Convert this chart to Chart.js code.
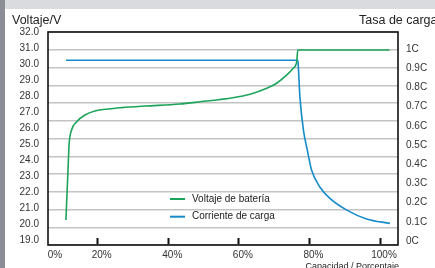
<!DOCTYPE html>
<html>
<head>
<meta charset="utf-8">
<script src="https://cdn.jsdelivr.net/npm/chart.js@4.4.0/dist/chart.umd.min.js"></script>
<style>
html, body { margin: 0; padding: 0; }
body {
  width: 435px; height: 268px; overflow: hidden;
  background: linear-gradient(#8b8e95, #8b8e95) 0 0 / 5px 100% no-repeat,
              linear-gradient(#dadbdf, #dadbdf) 0 0 / 100% 9px no-repeat, #fff;
}
canvas { display: block; }
</style>
</head>
<body>
<canvas id="chart" width="435" height="268"></canvas>
<script>
// datos de la curva de carga
var voltX = [11.0, 11.7, 11.9, 12.6, 14.05, 16.4, 19.2, 23.0, 26.8, 33.4, 43.3, 49.0, 58.3, 63.2, 67.9, 70.7, 73.6, 75.4, 76.4, 76.7, 102.7];
var voltY = [20.25, 24.0, 25.0, 25.89, 26.41, 26.83, 27.08, 27.21, 27.29, 27.39, 27.52, 27.66, 27.91, 28.13, 28.5, 28.82, 29.34, 29.76, 30.17, 30.9, 30.9];

var currX = [11.0, 76.7, 76.8, 77.3, 78.3, 79.4, 80.6, 83.0, 85.8, 90.6, 96.2, 102.8];
var currY = [0.941, 0.941, 0.925, 0.752, 0.578, 0.474, 0.370, 0.280, 0.222, 0.161, 0.115, 0.092];

var seriesNames = ["Voltaje de batería", "Corriente de carga"];

// ticks
var xTickPos = [6.77, 20, 40, 60, 80, 100];
var xTickLabels = ["0%", "20%", "40%", "60%", "80%", "100%"];
var voltTicks = [19, 20, 21, 22, 23, 24, 25, 26, 27, 28, 29, 30, 31, 32];
var rateTicks = [0, 0.1, 0.2, 0.3, 0.4, 0.5, 0.6, 0.7, 0.8, 0.9, 1];
var rateLabels = ["0C", "0.1C", "0.2C", "0.3C", "0.4C", "0.5C", "0.6C", "0.7C", "0.8C", "0.9C", "1C"];

function toPoints(xs, ys) {
  var pts = [];
  for (var i = 0; i < xs.length; i++) {
    pts.push({ x: xs[i], y: ys[i] });
  }
  return pts;
}

Chart.defaults.font.family = "'Liberation Sans', Arial, sans-serif";
Chart.defaults.color = "#333";

// marco del area
var framePlugin = {
  id: "frame",
  beforeDatasetsDraw: function(chart) {
    var a = chart.chartArea;
    var ctx = chart.ctx;
    ctx.save();
    ctx.strokeStyle = "#111";
    ctx.lineWidth = 1.6;
    ctx.strokeRect(a.left, a.top, a.right - a.left, a.bottom - a.top);
    ctx.restore();
  }
};

// leyenda dentro del grafico + textos
var textPlugin = {
  id: "texts",
  afterDraw: function(chart) {
    var ctx = chart.ctx;
    var a = chart.chartArea;
    ctx.save();
    ctx.fillStyle = "#222";
    ctx.textBaseline = "alphabetic";
    ctx.font = "12.5px 'Liberation Sans', Arial, sans-serif";
    ctx.textAlign = "left";
    ctx.fillText("Voltaje/V", 12, 24);
    ctx.fillText("Tasa de carga", 359, 24);
    ctx.font = "9px 'Liberation Sans', Arial, sans-serif";
    ctx.textAlign = "right";
    ctx.fillText("Capacidad / Porcentaje", a.right + 1, 269);

    ctx.font = "10px 'Liberation Sans', Arial, sans-serif";
    ctx.textAlign = "left";
    ctx.textBaseline = "middle";
    chart.data.datasets.forEach(function(ds, i) {
      var y = a.bottom - 46 + i * 17.7;
      ctx.strokeStyle = ds.borderColor;
      ctx.lineWidth = 2;
      ctx.beginPath();
      ctx.moveTo(a.left + 122, y);
      ctx.lineTo(a.left + 137, y);
      ctx.stroke();
      ctx.fillStyle = "#222";
      ctx.fillText(ds.label, a.left + 144, y);
    });
    ctx.restore();
  }
};

new Chart(document.getElementById("chart"), {
  type: "line",
  data: {
    datasets: [
      {
        label: seriesNames[0],
        data: toPoints(voltX, voltY),
        yAxisID: "y",
        borderColor: "#1ca45a",
        borderWidth: 1.6,
        pointRadius: 0,
        cubicInterpolationMode: "monotone"
      },
      {
        label: seriesNames[1],
        data: toPoints(currX, currY),
        yAxisID: "y1",
        borderColor: "#168bc9",
        borderWidth: 1.6,
        pointRadius: 0,
        cubicInterpolationMode: "monotone"
      }
    ]
  },
  options: {
    responsive: false,
    animation: false,
    layout: { padding: { top: 32, left: 0, right: 0, bottom: 0 } },
    plugins: {
      legend: { display: false },
      tooltip: { enabled: false }
    },
    scales: {
      x: {
        type: "linear",
        min: 5.92,
        max: 105.1,
        afterBuildTicks: function(s) {
          s.ticks = xTickPos.map(function(v) { return { value: v }; });
        },
        ticks: {
          callback: function(v, i) { return xTickLabels[i]; },
          font: { size: 10 },
          color: "#333",
          padding: 11,
          labelOffset: 4,
          maxRotation: 0,
          autoSkip: false
        },
        grid: {
          drawOnChartArea: false,
          tickLength: -7,
          tickWidth: 2,
          tickColor: function(c) { return c.index === 0 ? "rgba(0,0,0,0)" : "#111"; }
        },
        border: { display: false },
        afterFit: function(s) { s.height = 23; }
      },
      g: {
        position: "left",
        min: 0,
        max: 12,
        ticks: { display: false, stepSize: 1 },
        grid: { color: "#c4c4c4", lineWidth: 1.5, drawTicks: false },
        border: { display: false },
        afterFit: function(s) { s.width = 0; }
      },
      y: {
        position: "left",
        min: 18.687,
        max: 32.03,
        afterBuildTicks: function(s) {
          s.ticks = voltTicks.map(function(v) { return { value: v }; });
        },
        ticks: {
          callback: function(v) { return v.toFixed(1); },
          font: { size: 10 },
          color: "#333",
          padding: 9
        },
        grid: { display: false, drawTicks: false },
        border: { display: false },
        afterFit: function(s) { s.width = 48; }
      },
      y1: {
        position: "right",
        min: -0.0208,
        max: 1.0885,
        afterBuildTicks: function(s) {
          s.ticks = rateTicks.map(function(v) { return { value: v }; });
        },
        ticks: {
          callback: function(v, i) { return rateLabels[i]; },
          font: { size: 10 },
          color: "#333",
          padding: 8
        },
        grid: { display: false, drawTicks: false },
        border: { display: false },
        afterFit: function(s) { s.width = 37; }
      }
    }
  },
  plugins: [framePlugin, textPlugin]
});
</script>
</body>
</html>
